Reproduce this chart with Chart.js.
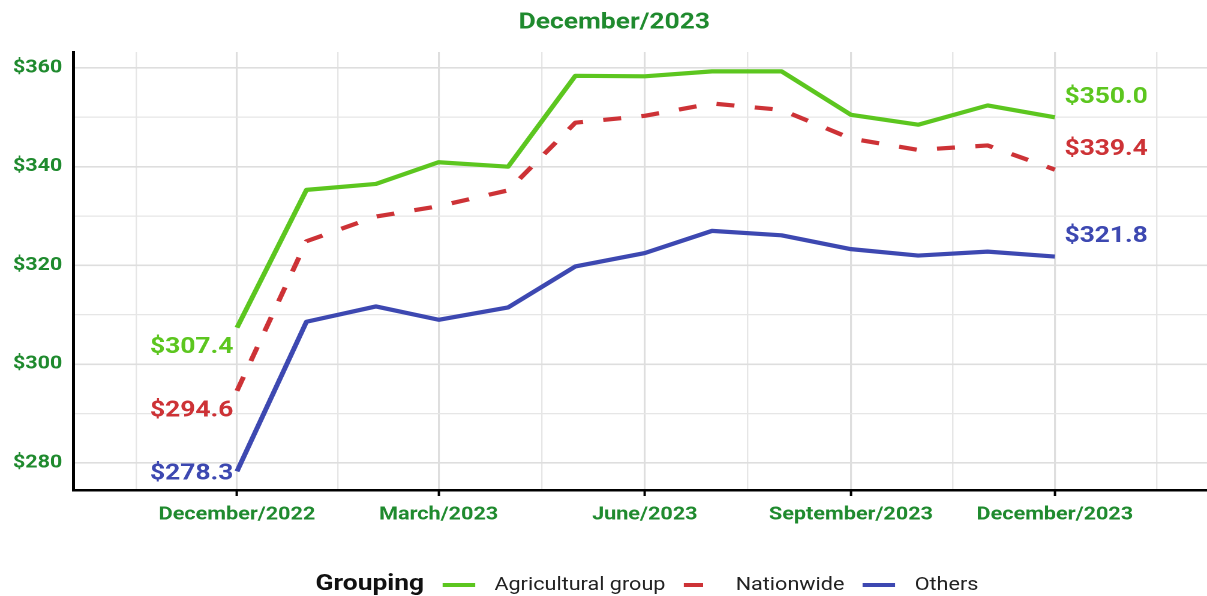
<!DOCTYPE html>
<html>
<head>
<meta charset="utf-8">
<script src="https://cdn.jsdelivr.net/npm/chart.js@4.4.0/dist/chart.umd.min.js"></script>
<style>
  html, body { margin: 0; padding: 0; background: #fff; overflow: hidden; }
  #wrap { position: relative; width: 1006px; height: 596px; transform: scaleX(1.1998); transform-origin: 0 0; }
  #legend { position: absolute; left: 263px; top: 571px; height: 24px; line-height: 24px; white-space: nowrap;
            font-family: Roboto, sans-serif; font-size: 18px; color: #222; }
  #legend .ttl { font-weight: bold; font-size: 22px; color: #111; }
  #legend .sw { display: inline-block; width: 27.5px; height: 4px; vertical-align: middle; margin: 0 16px 0 15px; }
</style>
</head>
<body>
<div id="wrap">
  <canvas id="chart" width="1006" height="596"></canvas>
  <div id="legend"></div>
</div>
<script>
// monthly values, Dec 2022 .. Dec 2023
const months = ['2022-12', '2023-01', '2023-02', '2023-03', '2023-04', '2023-05', '2023-06',
                '2023-07', '2023-08', '2023-09', '2023-10', '2023-11', '2023-12'];
const agricultural = [307.4, 335.3, 336.5, 340.9, 340.0, 358.4, 358.3, 359.3, 359.3, 350.5, 348.5, 352.4, 350.0];
const nationwide   = [294.6, 324.9, 329.9, 332.0, 335.2, 348.9, 350.3, 352.8, 351.5, 345.7, 343.4, 344.3, 339.4];
const others       = [278.3, 308.6, 311.7, 309.0, 311.5, 319.8, 322.5, 327.0, 326.1, 323.3, 322.0, 322.8, 321.8];

const xTickDates  = ['2022-12', '2023-03', '2023-06', '2023-09', '2023-12'];
const xTickLabels = ['December/2022', 'March/2023', 'June/2023', 'September/2023', 'December/2023'];
const yTickValues = [280, 300, 320, 340, 360];

const titleText = 'December/2023';
const legendTitle = 'Grouping';

const GREEN_TXT = '#1f8a2e';

// days since first month
function dayOf(s) {
  const [y, m] = s.split('-').map(Number);
  return (Date.UTC(y, m - 1, 1) - Date.UTC(2022, 11, 1)) / 864e5;
}

function xTicksWithMinor() {
  const maj = xTickDates.map(dayOf);
  const step = maj[1] - maj[0];
  const all = [maj[0] - step].concat(maj, [maj[maj.length - 1] + 91]);
  const out = [];
  for (let i = 0; i < all.length; i++) {
    if (i > 0) out.push({ value: (all[i - 1] + all[i]) / 2, major: false });
    if (i > 0 && i < all.length - 1) out.push({ value: all[i], major: true });
  }
  return out;
}

function yTicksWithMinor() {
  const out = [];
  yTickValues.forEach((v, i) => {
    out.push({ value: v, major: true });
    if (i < yTickValues.length - 1) out.push({ value: (v + yTickValues[i + 1]) / 2, major: false });
  });
  return out;
}

const toPoints = arr => arr.map((v, i) => ({ x: dayOf(months[i]), y: v }));

const gridColor = ctx => (ctx.tick && ctx.tick.major) ? '#dedede' : '#e6e6e6';
const gridWidth = ctx => (ctx.tick && ctx.tick.major) ? 1.6 : 1.2;

// title + first/last value labels
const extraText = {
  id: 'extraText',
  afterDraw(chart) {
    const { ctx } = chart;
    ctx.save();
    ctx.font = 'bold 22px Roboto';
    ctx.fillStyle = GREEN_TXT;
    ctx.textAlign = 'center';
    ctx.textBaseline = 'middle';
    ctx.fillText(titleText, 512, 23);
    ctx.restore();
  },
  afterDatasetsDraw(chart) {
    const { ctx, chartArea } = chart;
    ctx.save();
    ctx.font = 'bold 22px Roboto';
    ctx.textBaseline = 'middle';
    chart.data.datasets.forEach((ds, i) => {
      const pts = chart.getDatasetMeta(i).data;
      const first = pts[0], last = pts[pts.length - 1];
      ctx.fillStyle = ds.borderColor;
      ctx.textAlign = 'right';
      ctx.fillText('$' + ds.data[0].y.toFixed(1), first.x - 3, Math.min(first.y + 20, chartArea.bottom - 16));
      ctx.textAlign = 'left';
      ctx.fillText('$' + ds.data[pts.length - 1].y.toFixed(1), last.x + 8, last.y - 20);
    });
    ctx.restore();
  }
};

const chart = new Chart(document.getElementById('chart'), {
  type: 'line',
  data: {
    datasets: [
      { label: 'Agricultural group', data: toPoints(agricultural), borderColor: '#5cc61f', borderWidth: 4.2 },
      { label: 'Nationwide', data: toPoints(nationwide), borderColor: '#cd3236', borderWidth: 4.2, borderDash: [15, 17] },
      { label: 'Others', data: toPoints(others), borderColor: '#3d48b1', borderWidth: 4.2 }
    ]
  },
  options: {
    responsive: false,
    animation: false,
    devicePixelRatio: 2,
    layout: { padding: { left: 0, right: 0, top: 52, bottom: 70 } },
    elements: { point: { radius: 0 }, line: { tension: 0, borderJoinStyle: 'round' } },
    plugins: {
      legend: { display: false },
      tooltip: { enabled: false },
      title: { display: false }
    },
    scales: {
      x: {
        type: 'linear', min: -73.1, max: 432.9,
        afterBuildTicks: s => { s.ticks = xTicksWithMinor(); },
        afterFit: s => { s.height = 36; },
        border: { color: '#000', width: 2.5 },
        grid: {
          color: gridColor, lineWidth: gridWidth, tickLength: 6,
          tickColor: ctx => (ctx.tick && ctx.tick.major) ? '#000' : 'rgba(0,0,0,0)', tickWidth: 2
        },
        ticks: {
          autoSkip: false, maxRotation: 0, padding: 8, color: GREEN_TXT,
          font: { family: 'Roboto', size: 18, weight: 'bold' },
          callback: function (v) {
            const i = xTickDates.map(dayOf).indexOf(v);
            return i >= 0 ? xTickLabels[i] : '';
          }
        }
      },
      y: {
        min: 274.53, max: 363.22,
        afterBuildTicks: s => { s.ticks = yTicksWithMinor(); },
        afterFit: s => { s.width = 61; },
        border: { color: '#000', width: 2.5 },
        grid: { color: gridColor, lineWidth: gridWidth, drawTicks: false },
        ticks: {
          padding: 9, color: GREEN_TXT,
          font: { family: 'Roboto', size: 18, weight: 'bold' },
          callback: v => yTickValues.includes(v) ? '$' + v : ''
        }
      }
    }
  },
  plugins: [extraText]
});

// legend row built from the datasets
const leg = document.getElementById('legend');
let html = '<span class="ttl">' + legendTitle + '</span>';
chart.data.datasets.forEach(ds => {
  const bg = ds.borderDash
    ? 'linear-gradient(to right, ' + ds.borderColor + ' 0 16px, transparent 16px)'
    : ds.borderColor;
  html += '<span class="sw" style="background:' + bg + '"></span><span>' + ds.label + '</span>';
});
leg.innerHTML = html;
</script>
</body>
</html>
